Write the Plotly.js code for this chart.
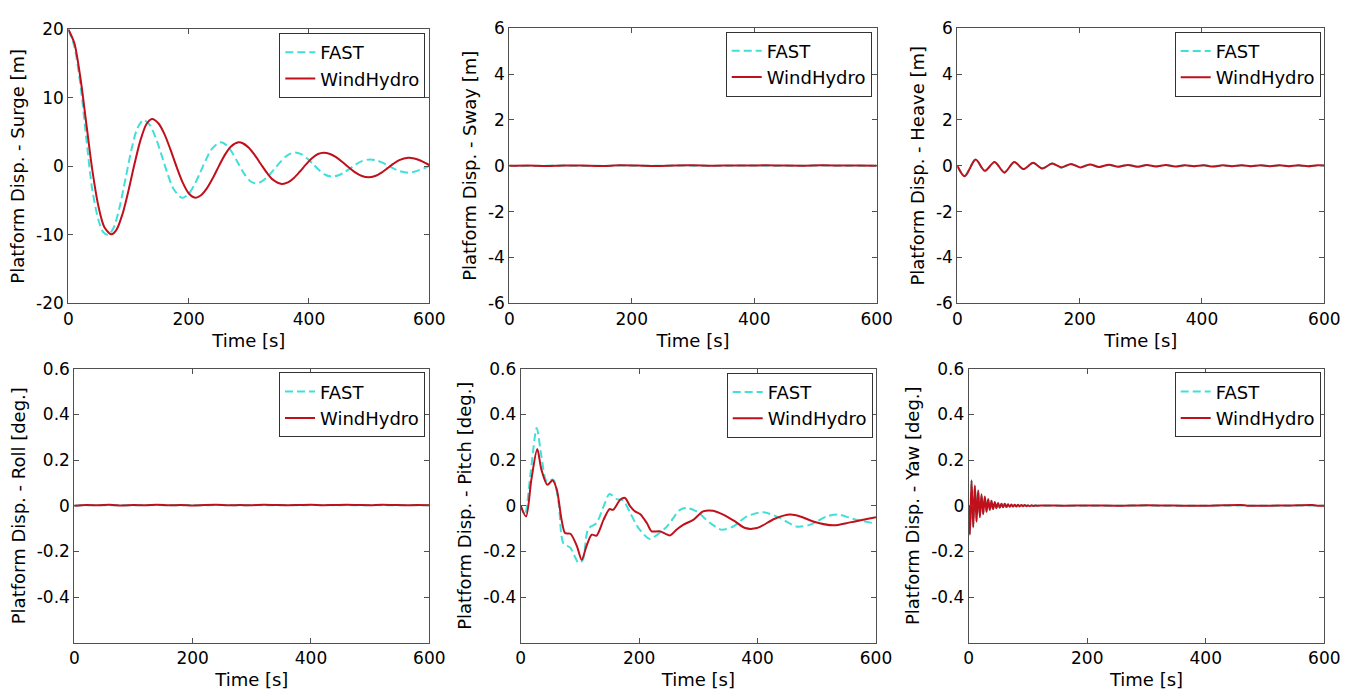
<!DOCTYPE html>
<html>
<head>
<meta charset="utf-8">
<script src="https://cdn.plot.ly/plotly-3.0.1.min.js"></script>
<style>
  html, body { margin: 0; padding: 0; background: #fff; }
  #chart { width: 1370px; height: 696px; }
</style>
</head>
<body>
<div id="chart"></div>
<script>
// ---------------- DATA ----------------
const seriesNames = ["FAST", "WindHydro"];
const xTickVals = [0, 200, 400, 600];

// Surge [m]
const surgeTimeFast = [0,10,20,30,40,50,58,66,75,85,95,105,115,125,135,145,155,165,175,189,199,209,219,229,239,253,263,273,283,293,303,311,321,331,341,351,361,369,377,387,397,407,417,427,438,448,458,468,478,488,501,511,521,531,541,551,565,575,585,593,600];
const surgeFast = [20,17.5,12.0,4.0,-3.5,-7.8,-9.6,-10.0,-9.05,-6.06,-1.85,2.44,5.60,6.76,6.09,4.24,1.64,-1.10,-3.31,-4.6,-4.12,-2.80,-0.95,1.00,2.58,3.5,3.07,1.91,0.34,-1.17,-2.22,-2.49,-2.24,-1.55,-0.56,0.49,1.38,1.84,2.0,1.77,1.15,0.30,-0.57,-1.23,-1.5,-1.35,-0.93,-0.34,0.27,0.75,1.0,0.89,0.57,0.13,-0.33,-0.71,-0.93,-0.8,-0.5,-0.22,0.05];
const surgeTimeWH = [0,10,20,30,40,50,60,71.5,80,90,100,110,120,130,139,150,160,170,180,190,200,211,220,230,240,250,260,270,283,290,300,310,320,330,340,355,365,375,385,395,405,415,424,435,445,455,465,475,488,499,510,520,530,540,550,565,575,585,593,600];
const surgeWH = [20,18.0,13.0,6.2,-0.6,-5.8,-8.9,-9.93,-9.28,-7.0,-3.55,0.33,3.82,6.17,6.9,6.25,4.66,2.40,-0.08,-2.34,-3.93,-4.58,-4.27,-3.27,-1.76,-0.01,1.63,2.87,3.5,3.36,2.70,1.62,0.33,-0.94,-1.95,-2.58,-2.35,-1.70,-0.76,0.27,1.19,1.80,1.99,1.80,1.34,0.67,-0.07,-0.77,-1.42,-1.61,-1.42,-0.95,-0.31,0.36,0.91,1.26,1.15,0.85,0.5,0.19];

// Sway [m]
const swayTime = [0,30,60,90,120,150,180,210,240,270,300,330,360,390,420,450,480,510,540,570,600];
const swayFast = [0,-0.01,0.005,0.01,-0.005,0,0.01,0.005,0,0.01,0.005,-0.005,0.005,0.01,0.005,0,0.005,0.01,0.005,0,0];
const swayWH = [0,0.01,-0.005,0.015,0.01,-0.01,0.02,0.01,-0.005,0.015,0.02,0.005,0.01,0.015,0.02,0.01,0.005,0.02,0.015,0.01,0.005];

// Heave [m]
const heaveTime = [0,12,30,45,61,77,93,108,124,139,155,170,186,201,217,232,248,263,279,294,310,325,341,356,372,387,403,418,434,449,465,480,496,511,527,542,558,573,589,600];
const heaveFast = [0,-0.44,0.28,-0.24,0.16,-0.28,0.16,-0.15,0.12,-0.11,0.1,-0.08,0.07,-0.06,0.06,-0.05,0.04,-0.04,0.04,-0.03,0.03,-0.03,0.03,-0.02,0.02,-0.02,0.02,-0.02,0.02,-0.02,0.02,-0.02,0.02,-0.02,0.02,-0.02,0.01,-0.02,0.01,0.01];
const heaveWH = [0,-0.46,0.27,-0.22,0.17,-0.3,0.17,-0.14,0.13,-0.12,0.10,-0.07,0.08,-0.07,0.06,-0.05,0.05,-0.04,0.04,-0.04,0.03,-0.03,0.03,-0.03,0.02,-0.02,0.02,-0.03,0.02,-0.02,0.02,-0.02,0.02,-0.02,0.02,-0.02,0.02,-0.02,0.02,0.01];

// Roll [deg.]
const rollTime = [0,20,40,60,80,100,120,140,160,180,200,220,240,260,280,300,320,340,360,380,400,420,440,460,480,500,520,540,560,580,600];
const rollFast = [0,0.002,0.003,0.002,0.003,0.002,0.003,0.003,0.002,0.002,0.003,0.002,0.003,0.003,0.002,0.003,0.002,0.002,0.003,0.002,0.003,0.003,0.002,0.003,0.002,0.003,0.002,0.002,0.003,0.002,0.002];
const rollWH = [0,0.003,0.002,0.004,0.001,0.003,0.002,0.004,0.002,0.003,0.001,0.003,0.004,0.002,0.003,0.002,0.004,0.003,0.002,0.003,0.004,0.002,0.003,0.004,0.003,0.002,0.004,0.003,0.002,0.003,0.002];

// Pitch [deg.]
const pitchTimeFast = [0,7,17,27,35,44,55,64,72,84,98,105,114,128,140,150,162,173,185,199,218,227,247,269,280,297,320,339,359,382,410,438,466,489,517,536,562,600];
const pitchFast = [0,-0.039,0.15,0.34,0.216,0.107,0.114,0.012,-0.164,-0.185,-0.251,-0.237,-0.102,-0.076,-0.003,0.051,0.029,0.023,-0.032,-0.098,-0.146,-0.134,-0.091,-0.018,-0.01,-0.025,-0.076,-0.105,-0.091,-0.047,-0.029,-0.054,-0.091,-0.083,-0.047,-0.039,-0.058,-0.079];
const pitchTimeWH = [0,9,18,28,35,45,54,61,69,75,84,95,103,111,120,128,140,150,156,168,176,185,193,202,213,221,235,252,263,275,292,308,325,342,362,379,399,429,455,472,494,528,556,600];
const pitchWH = [0,-0.047,0.114,0.248,0.158,0.092,0.111,0.070,-0.061,-0.12,-0.123,-0.178,-0.237,-0.178,-0.127,-0.131,-0.061,-0.015,-0.018,0.026,0.034,-0.003,-0.025,-0.037,-0.076,-0.112,-0.112,-0.13,-0.105,-0.083,-0.061,-0.025,-0.022,-0.039,-0.069,-0.098,-0.098,-0.057,-0.039,-0.047,-0.069,-0.086,-0.073,-0.05];

// Yaw [deg.]
const yawTime = [0,2,4.8,7.6,10.4,13.2,16,18.8,21.6,24.4,27.2,30,32.8,35.6,38.4,41.2,44,46.8,49.6,52.4,55.2,58,60.8,63.6,66.4,69.2,72,74.8,77.6,80.4,83.2,86,88.8,91.6,94.4,97.2,100,103,106,109,112,115,130,160,200,250,300,330,360,400,430,460,470,500,540,580,590,600];
const yawFast = [0,-0.12,0.105,-0.09,0.083,-0.066,0.064,-0.048,0.047,-0.035,0.037,-0.025,0.027,-0.019,0.02,-0.014,0.015,-0.01,0.011,-0.008,0.008,-0.006,0.007,-0.005,0.005,-0.004,0.004,-0.003,0.003,-0.003,0.003,-0.002,0.002,-0.002,0.002,-0.001,0.001,-0.001,0.001,-0.001,0.001,0,0,0,0,0,0.001,0,0,0,0.001,0.001,0,0,0,0.001,0,0];
const yawWH = [0,-0.127,0.112,-0.095,0.088,-0.070,0.068,-0.051,0.050,-0.037,0.040,-0.027,0.029,-0.020,0.022,-0.015,0.016,-0.011,0.012,-0.009,0.009,-0.007,0.008,-0.006,0.006,-0.005,0.005,-0.004,0.004,-0.003,0.004,-0.003,0.003,-0.002,0.003,-0.002,0.002,-0.002,0.002,-0.001,0.001,0,0.001,0,0.001,0,0.002,0.001,0,0,0.002,0.003,0,0,0.001,0.003,0,0];

// Axis labels & ticks
const yTitles = ["Platform Disp. - Surge [m]", "Platform Disp. - Sway [m]", "Platform Disp. - Heave [m]",
                 "Platform Disp. - Roll [deg.]", "Platform Disp. - Pitch [deg.]", "Platform Disp. - Yaw [deg.]"];
const xTitle = "Time [s]";
const surgeTickVals = [-20,-10,0,10,20];
const surgeTickText = ["-20","-10","0","10","20"];
const dispTickVals = [-6,-4,-2,0,2,4,6];
const dispTickText = ["-6","-4","-2","0","2","4","6"];
const rotTickVals = [-0.4,-0.2,0,0.2,0.4,0.6];
const rotTickText = ["-0.4","-0.2","0","0.2","0.4","0.6"];

// ---------------- STYLE / LAYOUT ----------------
const W = 1370, H = 696;
const FONT = "DejaVu Sans, Verdana, sans-serif";
const fastStyle = {color: "rgb(64,224,216)", width: 2, dash: "8px,4px", shape: "spline", smoothing: 0.8};
const whStyle = {color: "#c0101c", width: 2, shape: "spline", smoothing: 0.8};

// panel pixel boxes [left, right, top, bottom]
const boxes = [
  [68.3, 429.3, 29.3, 303.3],
  [509.3, 876.7, 28.3, 303.3],
  [957.3, 1324.3, 28.3, 303.3],
  [74.3, 429.3, 368.7, 642.7],
  [520.7, 876.0, 368.7, 642.7],
  [968.7, 1324.3, 368.7, 642.7]
];
// legend top-right corners
const legendPos = [[425.3, 33], [871.7, 31.5], [1320.7, 31.7], [425.0, 372.3], [872.7, 372.7], [1320.7, 372.3]];

const panels = [
  {tf: surgeTimeFast, f: surgeFast, tw: surgeTimeWH, w: surgeWH, range: [-20, 20], tv: surgeTickVals, tt: surgeTickText},
  {tf: swayTime, f: swayFast, tw: swayTime, w: swayWH, range: [-6, 6], tv: dispTickVals, tt: dispTickText},
  {tf: heaveTime, f: heaveFast, tw: heaveTime, w: heaveWH, range: [-6, 6], tv: dispTickVals, tt: dispTickText},
  {tf: rollTime, f: rollFast, tw: rollTime, w: rollWH, range: [-0.6, 0.6], tv: rotTickVals, tt: rotTickText},
  {tf: pitchTimeFast, f: pitchFast, tw: pitchTimeWH, w: pitchWH, range: [-0.6, 0.6], tv: rotTickVals, tt: rotTickText},
  {tf: yawTime, f: yawFast, tw: yawTime, w: yawWH, range: [-0.6, 0.6], tv: rotTickVals, tt: rotTickText}
];

const traces = [];
const layout = {
  width: W, height: H,
  margin: {l: 0, r: 0, t: 0, b: 0},
  paper_bgcolor: "#ffffff",
  plot_bgcolor: "#ffffff",
  font: {family: FONT, size: 17, color: "#000"},
  showlegend: true
};

const axisCommon = {
  showline: true, linecolor: "#505050", linewidth: 1, mirror: "ticks",
  ticks: "inside", ticklen: 5, tickcolor: "#505050", tickwidth: 1,
  showgrid: false, zeroline: false, fixedrange: true,
  tickfont: {family: FONT, size: 17, color: "#000"}
};

panels.forEach((p, i) => {
  const n = i + 1;
  const xa = "x" + (n === 1 ? "" : n), ya = "y" + (n === 1 ? "" : n);
  const lg = n === 1 ? "legend" : "legend" + n;
  traces.push({x: p.tf, y: p.f, xaxis: xa, yaxis: ya, type: "scatter", mode: "lines",
               name: seriesNames[0], line: fastStyle, legend: lg});
  traces.push({x: p.tw, y: p.w, xaxis: xa, yaxis: ya, type: "scatter", mode: "lines",
               name: seriesNames[1], line: whStyle, legend: lg});
  const b = boxes[i];
  const xKey = "xaxis" + (n === 1 ? "" : n), yKey = "yaxis" + (n === 1 ? "" : n);
  layout[xKey] = Object.assign({}, axisCommon, {
    domain: [b[0] / W, b[1] / W], anchor: ya, range: [0, 600],
    tickvals: xTickVals, ticktext: xTickVals.map(String),
    title: {text: xTitle, font: {family: FONT, size: 18, color: "#000"}, standoff: 6}
  });
  layout[yKey] = Object.assign({}, axisCommon, {
    domain: [1 - b[3] / H, 1 - b[2] / H], anchor: xa, range: p.range,
    tickvals: p.tv, ticktext: p.tt,
    title: {text: yTitles[i], font: {family: FONT, size: 18, color: "#000"}, standoff: 6}
  });
  const lp = legendPos[i];
  layout[lg] = {
    x: lp[0] / W, y: 1 - lp[1] / H, xanchor: "right", yanchor: "top",
    bgcolor: "#ffffff", bordercolor: "#333333", borderwidth: 1,
    font: {family: FONT, size: 18, color: "#000"},
    tracegroupgap: 0, itemclick: false, itemdoubleclick: false
  };
});

Plotly.newPlot("chart", traces, layout, {displayModeBar: false, staticPlot: true});
</script>
</body>
</html>
